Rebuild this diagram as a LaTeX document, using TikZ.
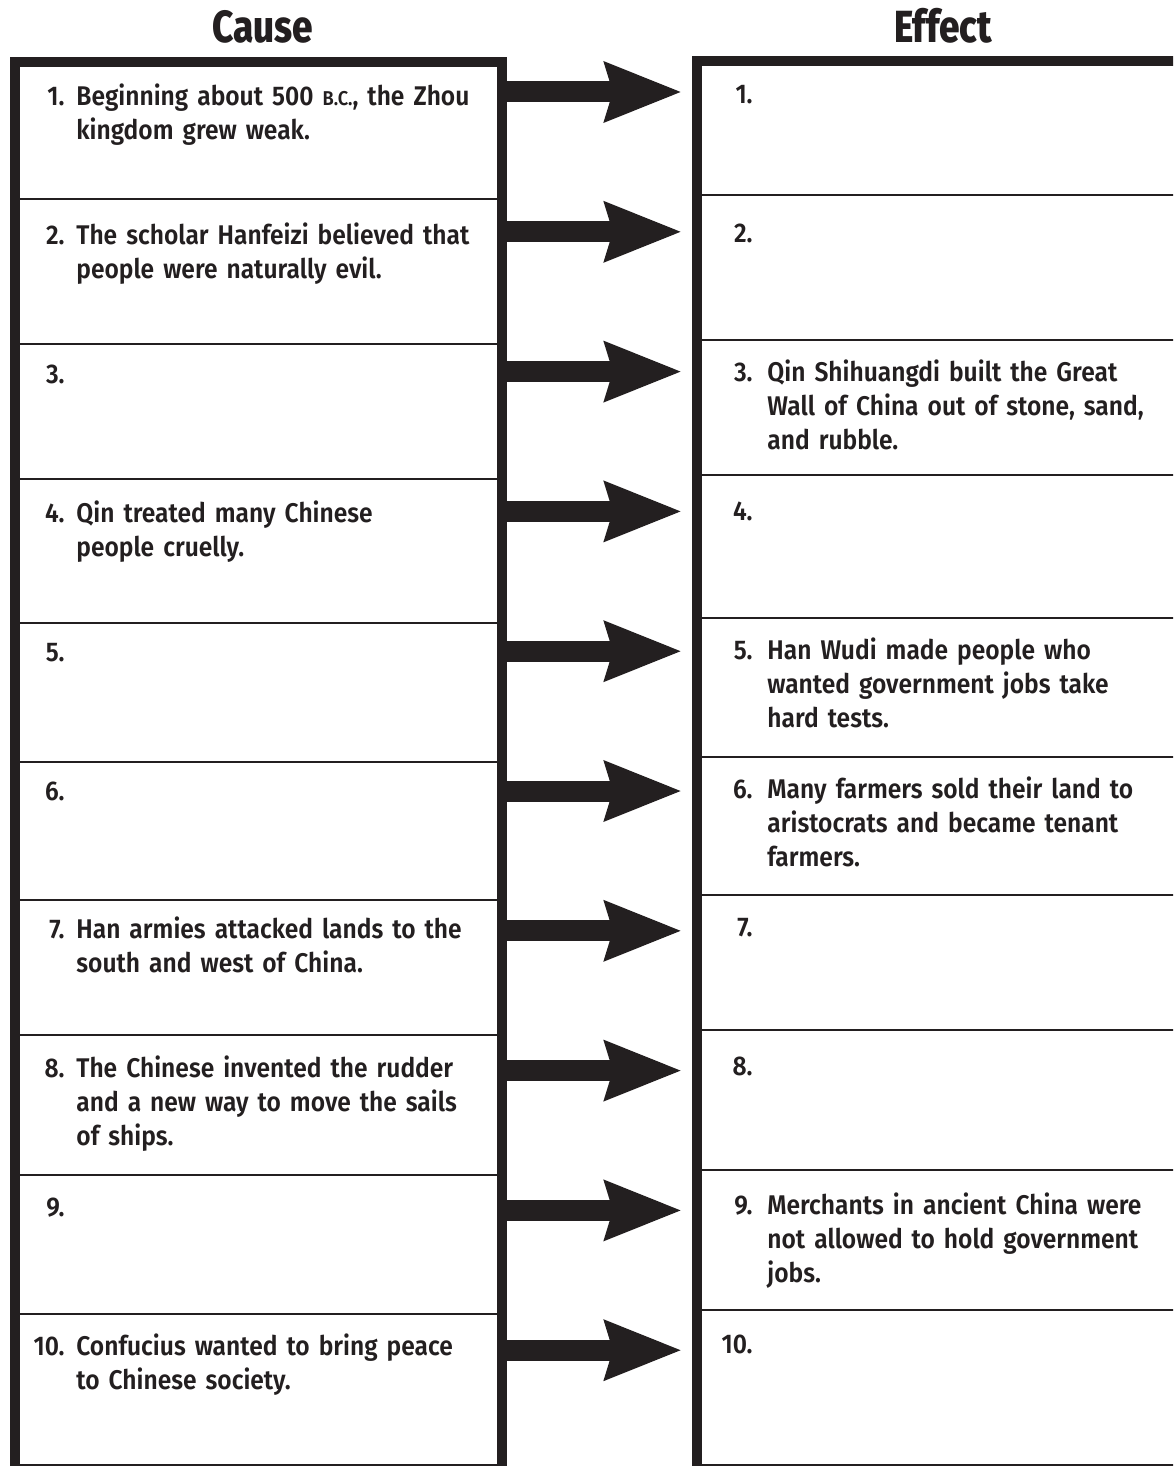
\documentclass[tikz,border=0pt]{standalone}
\usepackage{fontspec}
\setmainfont{Fira Sans}[UprightFont=* SemiBold, FakeStretch=0.91]
\newfontfamily\headfont{Fira Sans}[UprightFont=* ExtraBold, FakeStretch=0.82]
\usetikzlibrary{arrows.meta}
\definecolor{ink}{HTML}{231F20}

\begin{document}
\begin{tikzpicture}[x=0.5pt,y=-0.5pt,
  frame/.style={draw=ink,line width=5pt},
  rule/.style={draw=ink,line width=1.2pt},
  bigarrow/.style={draw=ink,fill=ink,line width=10.5pt,-{Stealth[length=38pt,width=28.5pt,inset=3.5pt]}},
  head/.style={anchor=base,inner sep=0pt,text=ink,font=\headfont\fontsize{22.5}{22.5}\selectfont},
  num/.style={anchor=base east,inner sep=0pt,text=ink,font=\fontsize{13.5}{17}\selectfont},
  celltext/.style={anchor=base west,inner sep=0pt,text=ink,text width=225pt,align=left,font=\fontsize{13.5}{17}\selectfont}]

  \clip (0,0) rectangle (1173,1466);

  \node[head] (cause) at (263,43) {Cause};
  \node[head] (effect) at (943,43) {Effect};

  % the two columns
  \draw[frame] (15,62) rectangle (502,1469);
  \draw[frame] (697,61) rectangle (1192,1469);

  \foreach \y in {199,344,479,623,762,900,1035,1175,1314}
    \draw[rule] (20,\y) -- (497,\y);
  \foreach \y in {195,340,475,618,757,895,1030,1170,1310}
    \draw[rule] (702,\y) -- (1187,\y);

  % arrows from cause to effect
  \foreach \k in {0,...,9} {
    \coordinate (s\k) at (502,{92+139.8*\k});
    \coordinate (t\k) at (682,{92+139.8*\k});
    \draw[bigarrow] (s\k) -- (t\k);
  }

  % causes
  \node[num] (cn1) at (65,106) {1.};
  \node[celltext] (ct1) at (76,106) {Beginning about 500 {\fontsize{10}{17}\selectfont B.C.}, the Zhou\\kingdom grew weak.};
  \node[num] (cn2) at (65,244.8) {2.};
  \node[celltext] (ct2) at (76,244.8) {The scholar Hanfeizi believed that\\people were naturally evil.};
  \node[num] (cn3) at (65,383.6) {3.};
  \node[num] (cn4) at (65,522.4) {4.};
  \node[celltext] (ct4) at (76,522.4) {Qin treated many Chinese\\people cruelly.};
  \node[num] (cn5) at (65,661.2) {5.};
  \node[num] (cn6) at (65,800) {6.};
  \node[num] (cn7) at (65,938.8) {7.};
  \node[celltext] (ct7) at (76,938.8) {Han armies attacked lands to the\\south and west of China.};
  \node[num] (cn8) at (65,1077.6) {8.};
  \node[celltext] (ct8) at (76,1077.6) {The Chinese invented the rudder\\and a new way to move the sails\\of ships.};
  \node[num] (cn9) at (65,1216.4) {9.};
  \node[num] (cn10) at (65,1355.2) {10.};
  \node[celltext] (ct10) at (76,1355.2) {Confucius wanted to bring peace\\to Chinese society.};

  % effects
  \node[num] (en1) at (753,104) {1.};
  \node[num] (en2) at (753,242.8) {2.};
  \node[num] (en3) at (753,381.6) {3.};
  \node[celltext] (et3) at (767,381.6) {Qin Shihuangdi built the Great\\Wall of China out of stone, sand,\\and rubble.};
  \node[num] (en4) at (753,520.4) {4.};
  \node[num] (en5) at (753,659.2) {5.};
  \node[celltext] (et5) at (767,659.2) {Han Wudi made people who\\wanted government jobs take\\hard tests.};
  \node[num] (en6) at (753,798) {6.};
  \node[celltext] (et6) at (767,798) {Many farmers sold their land to\\aristocrats and became tenant\\farmers.};
  \node[num] (en7) at (753,936.8) {7.};
  \node[num] (en8) at (753,1075.6) {8.};
  \node[num] (en9) at (753,1214.4) {9.};
  \node[celltext] (et9) at (767,1214.4) {Merchants in ancient China were\\not allowed to hold government\\jobs.};
  \node[num] (en10) at (753,1353.2) {10.};

\end{tikzpicture}
\end{document}
